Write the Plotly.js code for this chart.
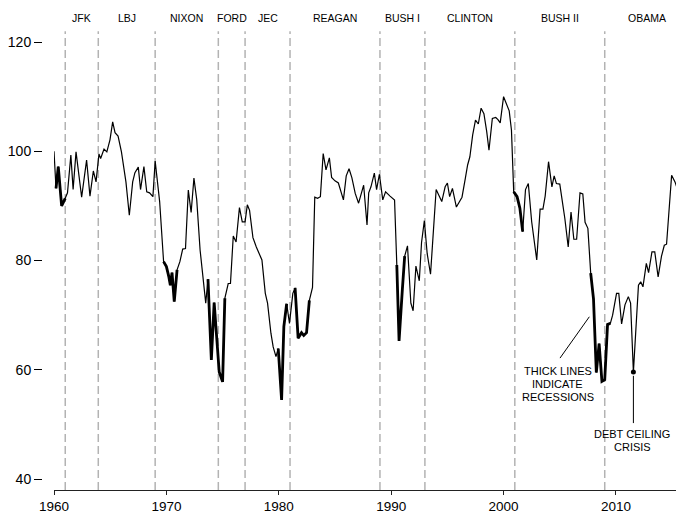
<!DOCTYPE html>
<html>
<head>
<meta charset="utf-8">
<script src="https://cdn.plot.ly/plotly-3.0.1.min.js"></script>
<style>html,body{margin:0;padding:0;background:#fff;}#chart{width:676px;height:513px;}</style>
</head>
<body>
<div id="chart"></div>
<script>
// Consumer sentiment index
const dates = [1960.0,1960.18,1960.38,1960.68,1961.0,1961.2,1961.5,1961.7,1961.96,1962.46,1962.9,1963.2,1963.5,1963.74,1964.0,1964.15,1964.45,1964.7,1964.98,1965.22,1965.43,1965.7,1966.0,1966.4,1966.7,1967.0,1967.2,1967.5,1967.7,1968.0,1968.25,1968.5,1968.8,1969.0,1969.4,1969.75,1970.0,1970.2,1970.35,1970.5,1970.7,1970.95,1971.2,1971.45,1971.7,1971.95,1972.2,1972.45,1972.7,1973.0,1973.5,1973.7,1974.0,1974.25,1974.5,1974.7,1975.0,1975.2,1975.5,1975.7,1975.95,1976.2,1976.5,1976.75,1977.0,1977.2,1977.4,1977.7,1978.0,1978.5,1978.8,1979.0,1979.3,1979.5,1979.75,1979.95,1980.25,1980.45,1980.7,1980.95,1981.25,1981.45,1981.72,1982.02,1982.22,1982.47,1982.72,1983.0,1983.2,1983.45,1983.7,1983.95,1984.2,1984.5,1984.7,1985.0,1985.3,1985.75,1986.0,1986.25,1986.5,1986.8,1987.1,1987.55,1987.85,1988.0,1988.2,1988.5,1988.7,1988.95,1989.25,1989.5,1989.9,1990.3,1990.5,1990.7,1991.0,1991.2,1991.45,1991.75,1991.95,1992.2,1992.5,1992.7,1992.95,1993.2,1993.5,1993.75,1994.0,1994.25,1994.5,1994.8,1995.0,1995.2,1995.45,1995.8,1996.3,1996.6,1996.8,1997.0,1997.25,1997.5,1997.75,1998.0,1998.25,1998.5,1998.7,1999.0,1999.3,1999.5,1999.7,2000.0,2000.25,2000.5,2000.7,2000.9,2001.2,2001.45,2001.7,2001.95,2002.2,2002.5,2002.95,2003.25,2003.5,2003.7,2004.0,2004.3,2004.5,2004.7,2005.0,2005.45,2005.75,2006.0,2006.25,2006.5,2006.8,2007.05,2007.25,2007.5,2007.75,2008.0,2008.25,2008.5,2008.75,2009.0,2009.25,2009.5,2009.7,2010.05,2010.25,2010.5,2010.8,2011.1,2011.3,2011.55,2012.0,2012.2,2012.4,2012.7,2012.9,2013.2,2013.45,2013.75,2014.05,2014.3,2014.5,2014.95,2015.25,2015.4];
const sentiment = [100.0,93.2,97.2,90.0,91.4,92.4,99.3,93.0,99.9,91.6,98.4,91.8,96.4,94.4,99.5,98.7,100.4,99.9,102.1,105.4,103.4,102.8,99.9,94.4,88.3,94.4,96.1,97.1,93.0,97.2,92.6,92.4,91.7,98.2,90.8,79.8,78.9,77.2,75.5,77.8,72.5,78.3,79.8,82.1,82.2,92.9,88.8,95.1,91.1,81.9,72.2,76.6,61.8,72.3,64.8,59.6,57.8,73.1,75.8,75.8,84.5,83.4,89.7,87.1,87.1,90.2,89.2,84.2,82.5,80.1,74.0,72.2,66.7,64.2,62.4,63.9,54.5,67.9,72.1,68.5,74.0,75.0,65.8,66.8,66.3,66.8,72.7,75.1,91.6,91.4,91.7,99.6,96.6,98.8,95.2,94.6,94.2,91.1,95.5,96.8,95.2,92.3,90.5,93.8,86.5,92.4,93.5,96.0,93.0,95.8,91.1,92.6,91.8,91.1,79.2,65.3,74.9,80.8,82.7,72.2,70.8,79.0,76.3,83.3,87.3,81.3,77.5,85.0,93.0,91.9,90.8,93.5,94.2,91.7,93.2,89.8,91.6,95.1,97.5,99.0,103.0,105.7,105.0,107.9,106.9,103.6,100.2,106.0,106.2,105.8,105.2,110.0,108.8,107.4,103.9,92.6,91.7,89.6,85.3,93.0,94.1,87.1,80.1,89.4,89.4,91.8,98.1,93.5,95.5,94.1,94.0,87.7,82.5,88.9,83.9,83.9,92.4,92.2,87.0,85.9,77.7,73.0,59.5,64.8,57.9,58.2,68.3,68.5,70.0,74.0,74.0,68.4,71.9,73.4,72.2,59.6,75.5,76.1,75.2,79.5,77.8,81.6,81.6,77.0,80.8,82.8,83.0,95.6,94.4,93.5];

// Recession periods (drawn thick)
const recStart = [1960.15,1969.7,1973.65,1979.9,1981.4,1990.45,2000.9,2007.7];
const recEnd   = [1961.05,1971.0,1975.25,1980.75,1982.8,1991.3,2001.75,2009.5];

// Presidential terms
const termStarts = [1961.0,1963.94,1969.0,1974.62,1977.0,1981.0,1989.0,1993.0,2001.0,2009.0];
const presidents = ["JFK","LBJ","NIXON","FORD","JEC","REAGAN","BUSH I","CLINTON","BUSH II","OBAMA"];
const labelPos = [1962.47,1966.47,1971.81,1975.81,1979.0,1985.0,1991.0,1997.0,2005.0,2012.8];

const debtCeiling = {x: 2011.55, y: 59.6};

const XMIN = 1960, XMAX = 2015.34, YMIN = 38, YMAX = 127.7;

function inRec(d){
  for (let i=0;i<recStart.length;i++) if (d>=recStart[i] && d<=recEnd[i]) return true;
  return false;
}
const thickY = sentiment.map((v,i)=> inRec(dates[i]) ? v : null);

const traces = [
  {x: dates, y: sentiment, type:'scatter', mode:'lines', line:{color:'#000', width:1.2}, hoverinfo:'skip'},
  {x: dates, y: thickY, type:'scatter', mode:'lines', line:{color:'#000', width:2.8}, connectgaps:false, hoverinfo:'skip'},
  {x: [debtCeiling.x], y: [debtCeiling.y], type:'scatter', mode:'markers', marker:{color:'#000', size:5}, hoverinfo:'skip'}
];

const shapes = termStarts.map(t => ({
  type:'line', xref:'x', yref:'y', x0:t, x1:t, y0:YMIN, y1:122,
  line:{color:'#b3b3b3', width:1.5, dash:'8px,4px'}, layer:'below'
}));
shapes.push({type:'line', xref:'x', yref:'y', x0:2005.02, y0:62.15, x1:2007.63, y1:69.71, line:{color:'#000', width:1}});
shapes.push({type:'line', xref:'x', yref:'y', x0:debtCeiling.x, y0:58.9, x1:debtCeiling.x, y1:50.25, line:{color:'#000', width:1}});

const fnt = {family:'"Liberation Sans", Arial, Helvetica, sans-serif', color:'#000'};
const annotations = presidents.map((p,i)=>({
  x: labelPos[i], y: 124.4, xref:'x', yref:'y', text:p, showarrow:false,
  xanchor:'center', yanchor:'middle', font:Object.assign({size:10.5}, fnt)
}));
[["THICK LINES",59.77],["INDICATE",57.39],["RECESSIONS",55.01]].forEach(a=>{
  annotations.push({x:2004.84, y:a[1], xref:'x', yref:'y', text:a[0], showarrow:false, xanchor:'center', yanchor:'middle', font:Object.assign({size:11}, fnt)});
});
[["DEBT CEILING",48.24],["CRISIS",45.86]].forEach(a=>{
  annotations.push({x:2011.45, y:a[1], xref:'x', yref:'y', text:a[0], showarrow:false, xanchor:'center', yanchor:'middle', font:Object.assign({size:11}, fnt)});
});

const layout = {
  width:676, height:513,
  margin:{l:0, r:0, t:0, b:23, pad:0},
  paper_bgcolor:'#fff', plot_bgcolor:'#fff',
  showlegend:false,
  xaxis:{
    domain:[54/676, 1], range:[XMIN, XMAX], showgrid:false, zeroline:false,
    showline:true, linecolor:'#222', linewidth:1,
    ticks:'outside', ticklen:4, tickwidth:1, tickcolor:'#222',
    tickvals:[1960,1970,1980,1990,2000,2010], ticktext:['1960','1970','1980','1990','2000','2010'],
    tickfont:Object.assign({size:13.5}, fnt), fixedrange:true, automargin:false
  },
  yaxis:{
    anchor:'free', position:42/676, range:[YMIN, YMAX], showgrid:false, zeroline:false,
    showline:false, ticks:'outside', ticklen:8, tickwidth:1, tickcolor:'#000',
    tickvals:[40,60,80,100,120], ticktext:['40','60','80','100','120'],
    tickfont:Object.assign({size:14}, fnt), fixedrange:true, automargin:false
  },
  shapes: shapes,
  annotations: annotations
};

Plotly.newPlot('chart', traces, layout, {staticPlot:true, displayModeBar:false});
</script>
</body>
</html>
